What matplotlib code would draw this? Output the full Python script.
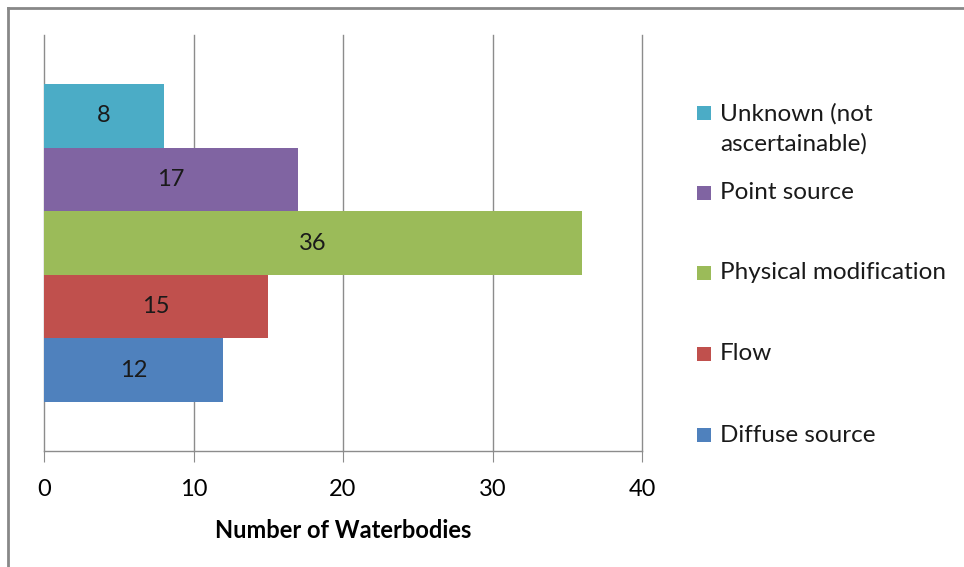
import matplotlib
matplotlib.use("Agg")
import matplotlib.pyplot as plt
from matplotlib.patches import Rectangle
from matplotlib.lines import Line2D

plt.rcParams['font.family'] = ['Lato', 'DejaVu Sans']

categories = ["Diffuse source", "Flow", "Physical modification", "Point source", "Unknown (not\nascertainable)"]
values = [12, 15, 36, 17, 8]
colors = ["#4F81BD", "#C0504D", "#9BBB59", "#8064A2", "#4BACC6"]
xticks = [0, 10, 20, 30, 40]

fig = plt.figure(figsize=(9.64, 5.67), dpi=100)
ax = fig.add_axes([44/964, 1-451/567, (642-44)/964, (451-35)/567])

ypos = list(range(len(values)))
ax.barh(ypos, values, height=1.0, color=colors, zorder=3)
for y, v in zip(ypos, values):
    ax.text(v/2, y, str(v), ha='center', va='center', fontsize=17, color='#1a1a1a', zorder=4)

ax.set_xlim(0, 40)
ax.set_ylim(-0.5-0.77, 4.5+0.77)
ax.set_xticks(xticks)
ax.set_xticklabels([str(t) for t in xticks], fontsize=17)
ax.set_yticks([])
ax.xaxis.grid(True, color='#8c8c8c', linewidth=1.0, zorder=0)
for gl in ax.get_xgridlines():
    gl.set_clip_on(False)
for s in ['top', 'right', 'left']:
    ax.spines[s].set_visible(False)
ax.spines['bottom'].set_color('#8c8c8c')
ax.spines['bottom'].set_linewidth(1.0)
ax.tick_params(axis='x', length=8, color='#8c8c8c', pad=12, direction='out')
ax.set_xlabel("Number of Waterbodies", fontsize=17, fontweight='bold', labelpad=14)

# legend drawn manually, top entry first
leg_y = [113, 193, 273, 354, 435]
order = [4, 3, 2, 1, 0]
for yy, i in zip(leg_y, order):
    fig.add_artist(Rectangle((697/964, 1-(yy+7)/567), 14/964, 14/567,
                             transform=fig.transFigure, facecolor=colors[i], edgecolor='none'))
    if '\n' in categories[i]:
        fig.text(720/964, 1-(yy-10)/567, categories[i], fontsize=17.5, va='top', ha='left',
                 color='#1a1a1a', linespacing=1.5)
    else:
        fig.text(720/964, 1-yy/567, categories[i], fontsize=17.5, va='center', ha='left',
                 color='#1a1a1a')

# outer frame
fig.add_artist(Line2D([8/964, 8/964], [0, 1-8/567], transform=fig.transFigure, color='#888888', linewidth=2))
fig.add_artist(Line2D([8/964, 1], [1-8/567, 1-8/567], transform=fig.transFigure, color='#888888', linewidth=2))

fig.savefig("out.png", dpi=100)
